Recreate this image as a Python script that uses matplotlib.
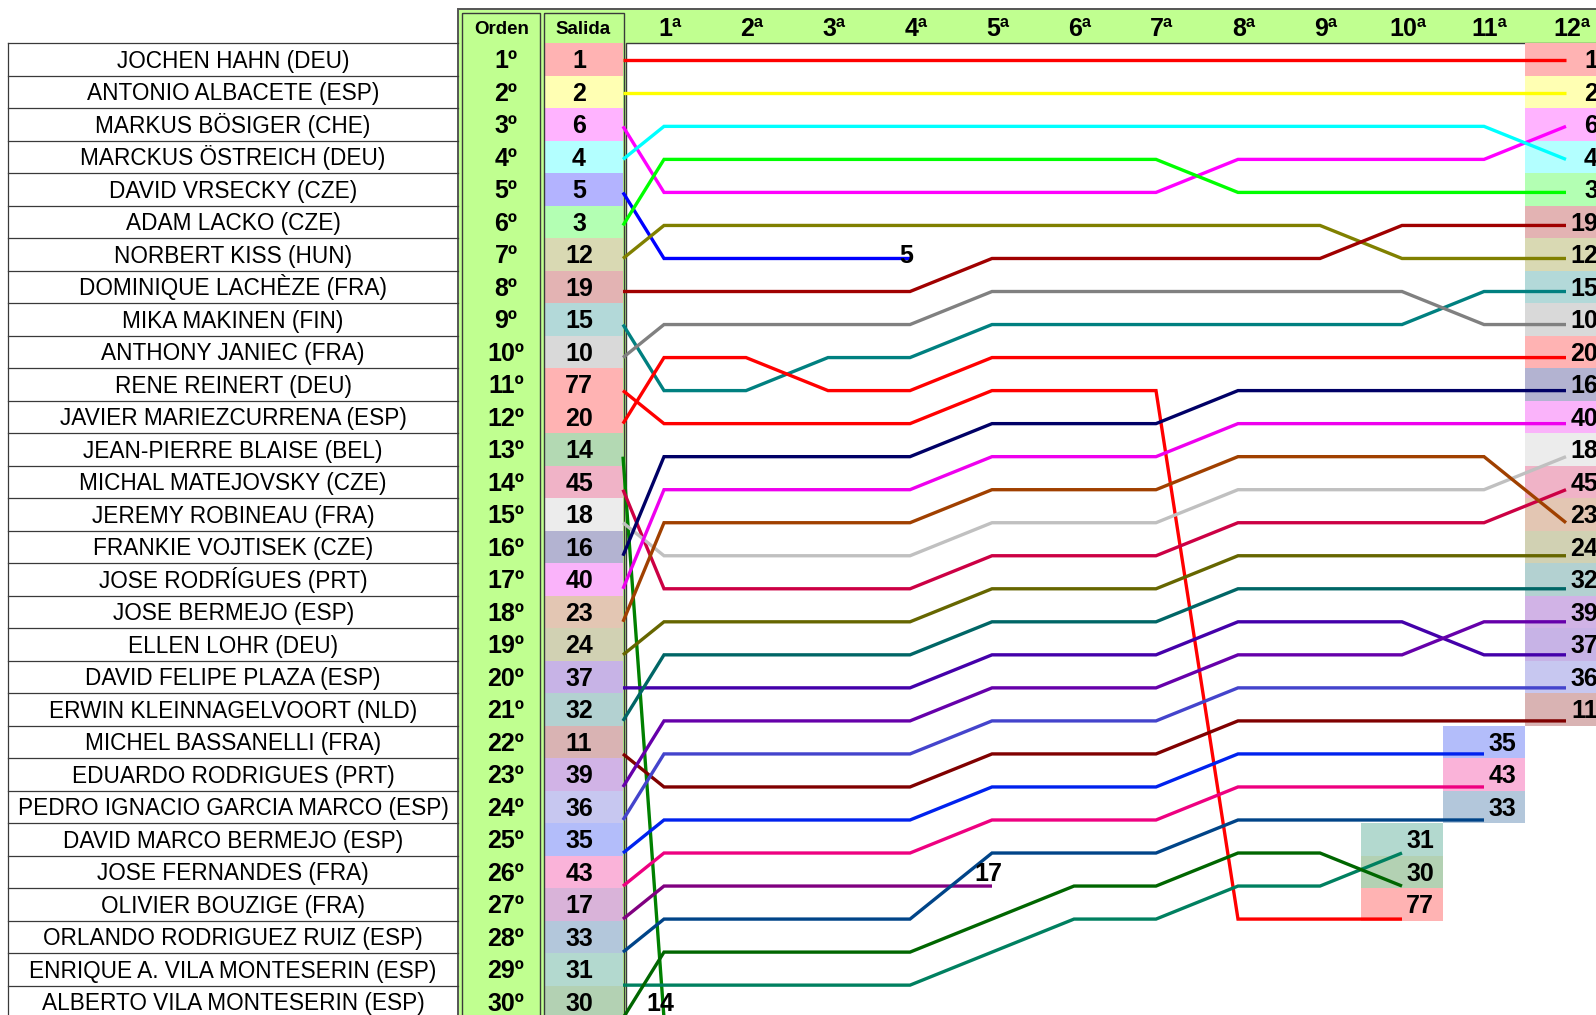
import matplotlib
matplotlib.use("Agg")
import matplotlib.pyplot as plt
from matplotlib.patches import Rectangle
from matplotlib.transforms import blended_transform_factory
from matplotlib.colors import to_rgb

# ---------------- data ----------------
names = ["JOCHEN HAHN (DEU)", "ANTONIO ALBACETE (ESP)", "MARKUS BÖSIGER (CHE)",
         "MARCKUS ÖSTREICH (DEU)", "DAVID VRSECKY (CZE)", "ADAM LACKO (CZE)",
         "NORBERT KISS (HUN)", "DOMINIQUE LACHÈZE (FRA)", "MIKA MAKINEN (FIN)",
         "ANTHONY JANIEC (FRA)", "RENE REINERT (DEU)", "JAVIER MARIEZCURRENA (ESP)",
         "JEAN-PIERRE BLAISE (BEL)", "MICHAL MATEJOVSKY (CZE)", "JEREMY ROBINEAU (FRA)",
         "FRANKIE VOJTISEK (CZE)", "JOSE RODRÍGUES (PRT)", "JOSE BERMEJO (ESP)",
         "ELLEN LOHR (DEU)", "DAVID FELIPE PLAZA (ESP)", "ERWIN KLEINNAGELVOORT (NLD)",
         "MICHEL BASSANELLI (FRA)", "EDUARDO RODRIGUES (PRT)",
         "PEDRO IGNACIO GARCIA MARCO (ESP)", "DAVID MARCO BERMEJO (ESP)",
         "JOSE FERNANDES (FRA)", "OLIVIER BOUZIGE (FRA)", "ORLANDO RODRIGUEZ RUIZ (ESP)",
         "ENRIQUE A. VILA MONTESERIN (ESP)", "ALBERTO VILA MONTESERIN (ESP)"]

orden = ["1º", "2º", "3º", "4º", "5º", "6º", "7º", "8º", "9º", "10º",
         "11º", "12º", "13º", "14º", "15º", "16º", "17º", "18º", "19º", "20º",
         "21º", "22º", "23º", "24º", "25º", "26º", "27º", "28º", "29º", "30º"]

salida = [1, 2, 6, 4, 5, 3, 12, 19, 15, 10, 77, 20, 14, 45, 18, 16, 40, 23, 24, 37,
          32, 11, 39, 36, 35, 43, 17, 33, 31, 30]

lap_labels = ["1ª", "2ª", "3ª", "4ª", "5ª", "6ª", "7ª", "8ª", "9ª", "10ª", "11ª", "12ª"]

N = None
positions = {
    1:  [1, 1, 1, 1, 1, 1, 1, 1, 1, 1, 1, 1],
    2:  [2, 2, 2, 2, 2, 2, 2, 2, 2, 2, 2, 2],
    6:  [5, 5, 5, 5, 5, 5, 5, 4, 4, 4, 4, 3],
    4:  [3, 3, 3, 3, 3, 3, 3, 3, 3, 3, 3, 4],
    5:  [7, 7, 7, 7, N, N, N, N, N, N, N, N],
    3:  [4, 4, 4, 4, 4, 4, 4, 5, 5, 5, 5, 5],
    12: [6, 6, 6, 6, 6, 6, 6, 6, 6, 7, 7, 7],
    19: [8, 8, 8, 8, 7, 7, 7, 7, 7, 6, 6, 6],
    15: [11, 11, 10, 10, 9, 9, 9, 9, 9, 9, 8, 8],
    10: [9, 9, 9, 9, 8, 8, 8, 8, 8, 8, 9, 9],
    77: [12, 12, 12, 12, 11, 11, 11, 27, 27, 27, N, N],
    20: [10, 10, 11, 11, 10, 10, 10, 10, 10, 10, 10, 10],
    14: [30, N, N, N, N, N, N, N, N, N, N, N],
    45: [17, 17, 17, 17, 16, 16, 16, 15, 15, 15, 15, 14],
    18: [16, 16, 16, 16, 15, 15, 15, 14, 14, 14, 14, 13],
    16: [13, 13, 13, 13, 12, 12, 12, 11, 11, 11, 11, 11],
    40: [14, 14, 14, 14, 13, 13, 13, 12, 12, 12, 12, 12],
    23: [15, 15, 15, 15, 14, 14, 14, 13, 13, 13, 13, 15],
    24: [18, 18, 18, 18, 17, 17, 17, 16, 16, 16, 16, 16],
    37: [20, 20, 20, 20, 19, 19, 19, 18, 18, 18, 19, 19],
    32: [19, 19, 19, 19, 18, 18, 18, 17, 17, 17, 17, 17],
    11: [23, 23, 23, 23, 22, 22, 22, 21, 21, 21, 21, 21],
    39: [21, 21, 21, 21, 20, 20, 20, 19, 19, 19, 18, 18],
    36: [22, 22, 22, 22, 21, 21, 21, 20, 20, 20, 20, 20],
    35: [24, 24, 24, 24, 23, 23, 23, 22, 22, 22, 22, N],
    43: [25, 25, 25, 25, 24, 24, 24, 23, 23, 23, 23, N],
    17: [26, 26, 26, 26, 26, N, N, N, N, N, N, N],
    33: [27, 27, 27, 27, 25, 25, 25, 24, 24, 24, 24, N],
    31: [29, 29, 29, 29, 28, 27, 27, 26, 26, 25, N, N],
    30: [28, 28, 28, 28, 27, 26, 26, 25, 25, 26, N, N],
}

colors = {
    1: '#ff0000', 2: '#ffff00', 6: '#ff00ff', 4: '#00ffff', 5: '#0000ff', 3: '#00ff00',
    12: '#808000', 19: '#a00000', 15: '#008080', 10: '#808080', 77: '#ff0000',
    20: '#ff0000', 14: '#008000', 45: '#cc0044', 18: '#c0c0c0', 16: '#000066',
    40: '#ee00ee', 23: '#a04000', 24: '#666600', 37: '#4400aa', 32: '#006666',
    11: '#800000', 39: '#6600aa', 36: '#4444cc', 35: '#0022ee', 43: '#ee0080',
    17: '#800080', 33: '#004488', 31: '#008060', 30: '#006600',
}

boxed_from_lap = 10   # cars classified (last lap >= 10) get a coloured label cell

# ---------------- layout ----------------
W, H = 1596, 1015
ROW0, ROWH = 59.5, 32.5            # table rows (pixels)
LINE_R1, LINE_DY = 60.3, 33.03     # chart rows (pixels)
LAP1_X, LAP_DX = 664.0, 82.0       # chart laps (pixels)
GREEN = '#c0ff90'
EDGE = '#3a3a3a'
NAME_FONT = ['Liberation Sans', 'DejaVu Sans']
BOLD_FONT = ['Liberation Sans', 'DejaVu Sans']


def rc(r):
    return ROW0 + (r - 1) * ROWH


def tint(c, a=0.30):
    r, g, b = to_rgb(c)
    return (1 - a * (1 - r), 1 - a * (1 - g), 1 - a * (1 - b))


fig = plt.figure(figsize=(W / 100, H / 100), dpi=100)
fig.patch.set_facecolor('white')

ax_t = fig.add_axes([0, 0, 1, 1])
ax_t.set_xlim(0, W)
ax_t.set_ylim(H, 0)
ax_t.axis('off')

ax_l = fig.add_axes([0, 0, 1, 1])
ax_l.set_xlim(1 - LAP1_X / LAP_DX, 1 + (W - LAP1_X) / LAP_DX)
ax_l.set_ylim(1 + (H - LINE_R1) / LINE_DY, 1 - LINE_R1 / LINE_DY)
ax_l.axis('off')

blend = blended_transform_factory(ax_l.transData, ax_t.transData)


def txt(ax, x, yc, s, size, ha='center', bold=True, family=BOLD_FONT, transform=None, z=5):
    cap = 0.716 * size * 100 / 72
    ax.text(x, yc + cap / 2, s, ha=ha, va='baseline', fontsize=size,
            fontweight='bold' if bold else 'normal', family=family, color='black',
            transform=transform if transform is not None else ax.transData, zorder=z,
            clip_on=False)


# names table
NAME_L, NAME_R = 8.3, 458
top0 = rc(1) - ROWH / 2
for i in range(31):
    y = top0 + i * ROWH
    ax_t.plot([NAME_L, NAME_R], [y, y], color=EDGE, lw=0.9, zorder=2)
ax_t.plot([NAME_L, NAME_L], [top0, H], color=EDGE, lw=0.9, zorder=2)
for i, nm in enumerate(names):
    txt(ax_t, (NAME_L + NAME_R) / 2, rc(i + 1), nm, 16.3, bold=False, family=NAME_FONT)

# green area
ax_t.add_patch(Rectangle((NAME_R, 9.3), W - NAME_R + 5, H, facecolor=GREEN,
                         edgecolor='#555555', lw=1.4, zorder=1))
# Orden column
ax_t.add_patch(Rectangle((462, 12.5), 540 - 462, H, facecolor='none',
                         edgecolor=EDGE, lw=1.0, zorder=3))
# Salida coloured cells
SAL_L, SAL_R = 545, 622.5
for i, car in enumerate(salida):
    ax_t.add_patch(Rectangle((SAL_L, rc(i + 1) - ROWH / 2), SAL_R - SAL_L, ROWH,
                             facecolor=tint(colors[car]), edgecolor='none', zorder=2))
ax_t.add_patch(Rectangle((543.5, 12.5), 624 - 543.5, H, facecolor='none',
                         edgecolor=EDGE, lw=1.0, zorder=3))
# chart area
ax_t.add_patch(Rectangle((625.5, top0), W, H, facecolor='white',
                         edgecolor=EDGE, lw=1.0, zorder=2))

# headers
txt(ax_t, 502, rc(0), "Orden", 13.5)
txt(ax_t, 583, rc(0), "Salida", 13.5)
for k, lab in enumerate(lap_labels):
    txt(ax_l, k + 1 + 0.07, rc(0), lab, 18, transform=blend)

for i, (o, car) in enumerate(zip(orden, salida)):
    txt(ax_t, 506, rc(i + 1), o, 18)
    txt(ax_t, 579, rc(i + 1), str(car), 18)

# lines and end labels
for i, car in enumerate(salida):
    pos = positions[car]
    laps = [k + 1 for k, p in enumerate(pos) if p is not None]
    last = laps[-1]
    xs = [0.5] + laps
    ys = [i + 1] + [pos[k - 1] for k in laps]
    ax_l.plot(xs, ys, color=colors[car], lw=2.4, solid_joinstyle='miter',
              solid_capstyle='butt', zorder=3)
    final = pos[last - 1]
    if last >= boxed_from_lap:
        ax_t.add_patch(Rectangle((last - 0.5, rc(final) - ROWH / 2), 1.0, ROWH,
                                 facecolor=tint(colors[car]), edgecolor='none',
                                 transform=blend, zorder=2.5))
        txt(ax_l, last + 0.39, rc(final), str(car), 18, ha='right', transform=blend)
    else:
        txt(ax_l, last - 0.04, rc(final), str(car), 18, transform=blend)

fig.savefig("out.png", dpi=100, facecolor='white')
